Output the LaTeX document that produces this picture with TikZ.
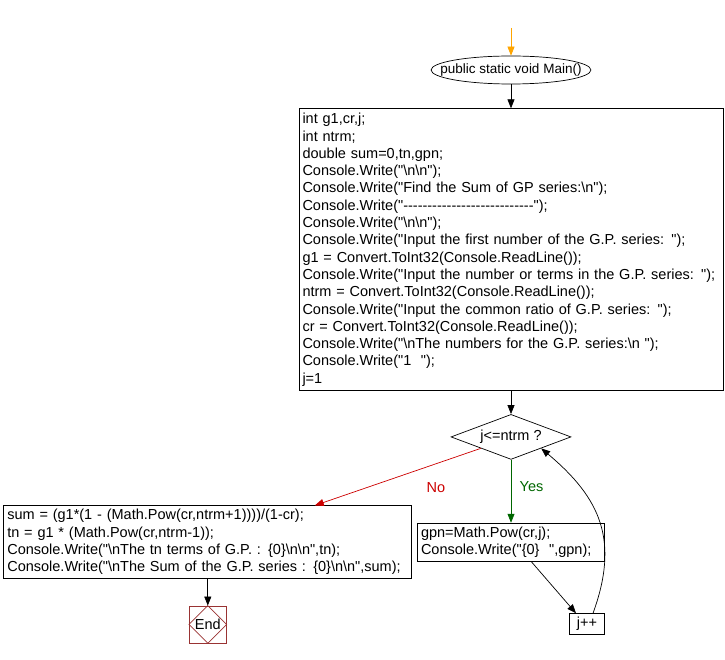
\documentclass[tikz,border=0pt]{standalone}
\usepackage{fontspec}
\newfontfamily\codefont{Liberation Sans}
\usepackage{tikz}
\usetikzlibrary{arrows.meta,positioning,shapes.geometric}

\definecolor{startorange}{HTML}{FFA500}
\definecolor{nored}{HTML}{CC0000}
\definecolor{yesgreen}{HTML}{006600}
\definecolor{endred}{HTML}{993333}

\begin{document}
\begin{tikzpicture}[
    x=1pt, y=-1pt,
    >={Triangle[length=9pt,width=7pt]},
    line width=0.7pt,
    every node/.style={font=\codefont\fontsize{14.5}{17.3}\selectfont},
    codebox/.style={draw, rectangle, align=left, inner xsep=3.5pt,
      inner ysep=4.5pt},
    startnode/.style={draw, ellipse, minimum height=28pt,
      inner xsep=-14pt, inner ysep=0pt,
      font=\codefont\fontsize{13.5}{16}\selectfont},
    decision/.style={draw, diamond, aspect=2.67, minimum width=120pt,
      minimum height=45pt, inner sep=0pt},
    stopbox/.style={draw=endred, rectangle, minimum width=37pt,
      minimum height=37pt, inner sep=0pt},
  ]
  \useasboundingbox (0,0) rectangle (725,660);

  % Entry
  \coordinate (entry) at (511,28);
  \node[startnode] (main) at (511,70) {public static void Main()};

  % Declarations and input
  \node[codebox, below=24pt of main, text width=417pt] (init)
    {int g1,cr,j;\\
     int ntrm;\\
     double sum=0,tn,gpn;\\
     Console.Write("\textbackslash n\textbackslash n");\\
     Console.Write("Find the Sum of GP series:\textbackslash n");\\
     Console.Write("---------------------------");\\
     Console.Write("\textbackslash n\textbackslash n");\\
     Console.Write("Input the first number of the G.P. series: ");\\
     g1 = Convert.ToInt32(Console.ReadLine());\\
     Console.Write("Input the number or terms in the G.P. series: ");\\
     ntrm = Convert.ToInt32(Console.ReadLine());\\
     Console.Write("Input the common ratio of G.P. series: ");\\
     cr = Convert.ToInt32(Console.ReadLine());\\
     Console.Write("\textbackslash nThe numbers for the G.P. series:\textbackslash n ");\\
     Console.Write("1~~");\\
     j=1};

  % Loop test
  \node[decision, below=23pt of init] (cond) {j<=ntrm ?};

  % Loop body
  \node[codebox, below=63pt of cond, text width=180pt, inner ysep=3.5pt] (gpn)
    {gpn=Math.Pow(cr,j);\\
     Console.Write("\{0\}~~",gpn);};

  % Result
  \node[codebox, left=5pt of gpn, text width=401pt, inner ysep=3.5pt] (sum)
    {sum = (g1*(1 - (Math.Pow(cr,ntrm+1))))/(1-cr);\\
     tn = g1 * (Math.Pow(cr,ntrm-1));\\
     Console.Write("\textbackslash nThe tn terms of G.P. : \{0\}\textbackslash n\textbackslash n",tn);\\
     Console.Write("\textbackslash nThe Sum of the G.P. series : \{0\}\textbackslash n\textbackslash n",sum);};

  % End
  \node[stopbox, below=27pt of sum] (stop) {End};
  \draw[endred] (stop.west) -- (stop.north) -- (stop.east) -- (stop.south) -- cycle;

  % Increment
  \node[codebox, below=52pt of gpn, xshift=76pt, minimum width=35pt,
    minimum height=21pt, inner sep=0pt] (jpp) {j++};

  % Edges
  \draw[->, startorange] (entry) -- (main);
  \draw[->] (main) -- (init);
  \draw[->] (init) -- (cond);
  \draw[->, nored] (cond.south west) -- ([xshift=107pt]sum.north)
    node[pos=0.27, below=15pt] {No};
  \draw[->, yesgreen] (cond) -- (gpn)
    node[pos=0.42, right=5pt] {Yes};
  \draw[->] (sum) -- (stop);
  \draw[->] ([xshift=20pt]gpn.south) -- ([xshift=-11pt]jpp.north);
  \draw[->] ([xshift=6pt]jpp.north) to[out=70, in=-40, looseness=1.15]
    (cond.south east);
\end{tikzpicture}
\end{document}
